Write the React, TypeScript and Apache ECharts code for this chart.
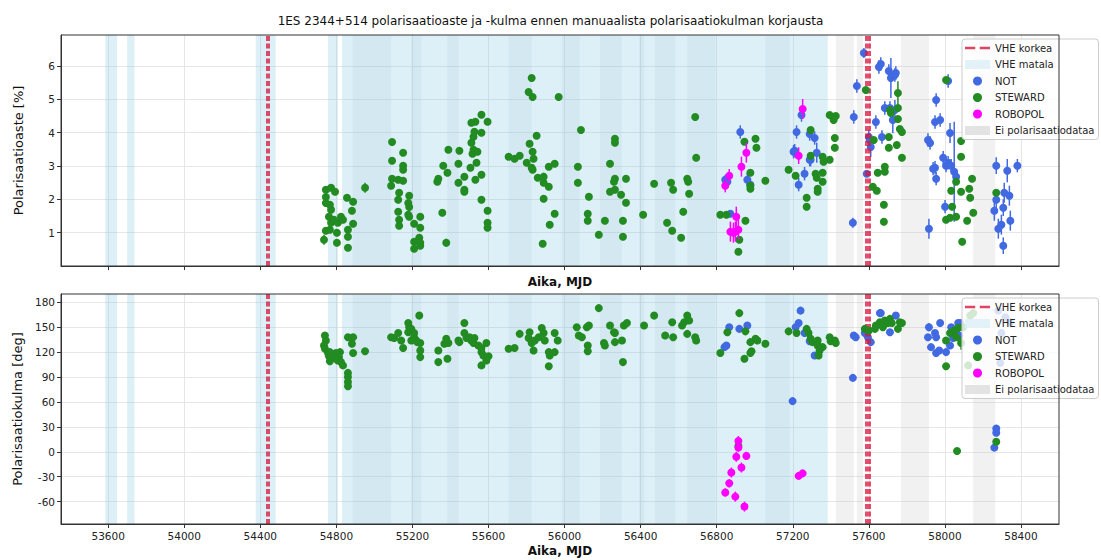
import React, { useEffect, useRef } from "react";
import * as echarts from "echarts";

const TITLE = "1ES 2344+514 polarisaatioaste ja -kulma ennen manuaalista polarisaatiokulman korjausta";
const X_TICKS = [53600, 54000, 54400, 54800, 55200, 55600, 56000, 56400, 56800, 57200, 57600, 58000, 58400];
const DEG_TICKS = [1, 2, 3, 4, 5, 6];
const ANG_TICKS = [-60, -30, 0, 30, 60, 90, 120, 150, 180];

const VHE_HIGH = [54432, 54446, 57584, 57594, 57604];
const VHE_LOW_BANDS = [
  [53585, 53647], [53700, 53738], [54376, 54481], [54756, 54808], [54830, 57384],
];
const VHE_LOW_OVERLAP = [
  [54886, 55088], [55194, 55246], [55384, 55442], [55706, 55827], [55985, 56080],
  [56186, 56300], [56392, 56418], [56476, 56582], [56645, 56793], [57056, 57183],
];
const NO_DATA_BANDS = [[57426, 57521], [57537, 57570], [57769, 57916], [58149, 58265]];

// [MJD, polarisaatioaste %, virhe]
const STEWARD_DEG = [
  [54745, 2.29, 0.05], [54772, 2.35, 0.05], [54793, 2.23, 0.05], [54745, 2.07, 0.05], [54745, 1.89, 0.05],
  [54766, 1.84, 0.05], [54772, 1.69, 0.05], [54761, 1.48, 0.05], [54772, 1.30, 0.05], [54745, 1.06, 0.05],
  [54735, 0.79, 0.15], [54766, 1.09, 0.05], [54787, 1.39, 0.05], [54808, 1.30, 0.05], [54824, 1.48, 0.05],
  [54835, 1.39, 0.05], [54803, 1.00, 0.05], [54803, 0.70, 0.05], [54861, 0.55, 0.05], [54856, 2.05, 0.05],
  [54888, 1.93, 0.05], [54882, 1.66, 0.05], [54888, 1.27, 0.05], [54861, 1.09, 0.05], [54861, 0.88, 0.05],
  [54951, 2.35, 0.15], [55093, 3.72, 0.05], [55093, 3.16, 0.05], [55093, 2.62, 0.05], [55088, 2.41, 0.05],
  [55125, 2.59, 0.05], [55151, 3.40, 0.05], [55151, 3.01, 0.05], [55151, 2.89, 0.05], [55151, 2.56, 0.05],
  [55130, 2.20, 0.05], [55125, 1.99, 0.05], [55125, 1.63, 0.05], [55130, 1.39, 0.05], [55130, 1.21, 0.05],
  [55183, 2.11, 0.05], [55178, 1.89, 0.05], [55183, 1.77, 0.05], [55178, 1.54, 0.05], [55183, 1.48, 0.05],
  [55209, 1.27, 0.05], [55241, 1.48, 0.05], [55241, 1.15, 0.05], [55209, 0.73, 0.05], [55209, 0.52, 0.05],
  [55236, 0.85, 0.05], [55241, 0.70, 0.05], [55241, 0.61, 0.05], [55357, 1.60, 0.05], [55378, 0.70, 0.12],
  [55331, 2.53, 0.05], [55336, 2.62, 0.05], [55362, 3.01, 0.05], [55384, 2.80, 0.05], [55389, 3.49, 0.05],
  [55442, 3.07, 0.05], [55447, 3.46, 0.05], [55442, 2.50, 0.05], [55473, 2.68, 0.05], [55473, 2.29, 0.05],
  [55473, 2.23, 0.05], [55505, 2.95, 0.05], [55516, 3.37, 0.05], [55510, 3.70, 0.05], [55521, 3.88, 0.05],
  [55526, 4.03, 0.05], [55531, 4.33, 0.05], [55510, 4.30, 0.05], [55563, 4.54, 0.05], [55595, 4.33, 0.05],
  [55563, 4.00, 0.05], [55521, 3.49, 0.05], [55542, 3.43, 0.05], [55537, 3.10, 0.05], [55531, 2.59, 0.05],
  [55563, 2.74, 0.05], [55563, 1.99, 0.05], [55595, 1.66, 0.05], [55595, 1.30, 0.05], [55595, 1.15, 0.05],
  [55706, 3.28, 0.05], [55737, 3.22, 0.05], [55764, 3.31, 0.05], [55801, 3.10, 0.05], [55827, 2.95, 0.05],
  [55832, 2.89, 0.05], [55837, 3.22, 0.05], [55832, 3.43, 0.05], [55816, 3.67, 0.05], [55853, 3.91, 0.05],
  [55859, 2.65, 0.05], [55890, 2.68, 0.12], [55890, 2.50, 0.05], [55917, 2.38, 0.05], [55890, 2.02, 0.05],
  [55948, 1.57, 0.05], [55922, 1.24, 0.05], [55885, 0.67, 0.05], [55917, 2.98, 0.05], [55948, 3.07, 0.05],
  [55811, 5.22, 0.05], [55827, 5.64, 0.05], [55832, 5.07, 0.05], [55969, 5.07, 0.05],
  [56086, 4.08, 0.05], [56070, 2.98, 0.05], [56070, 2.50, 0.05], [56128, 2.08, 0.05], [56122, 1.57, 0.05],
  [56122, 1.36, 0.05], [56180, 0.94, 0.05], [56212, 1.36, 0.05], [56265, 3.82, 0.05], [56265, 3.70, 0.08],
  [56239, 3.07, 0.05], [56265, 2.62, 0.05], [56260, 2.53, 0.05], [56265, 2.29, 0.05], [56239, 2.23, 0.05],
  [56297, 2.14, 0.05], [56323, 1.90, 0.05], [56323, 2.62, 0.05], [56307, 1.36, 0.05], [56307, 0.88, 0.05],
  [56413, 1.54, 0.05], [56471, 2.47, 0.1], [56539, 1.30, 0.05], [56566, 1.06, 0.05], [56613, 0.85, 0.05],
  [56560, 2.50, 0.05], [56571, 2.29, 0.05], [56645, 2.62, 0.05], [56650, 2.53, 0.05], [56655, 2.17, 0.05],
  [56624, 1.63, 0.05], [56687, 4.47, 0.05], [56692, 3.25, 0.05], [56819, 1.54, 0.05], [56851, 1.54, 0.05],
  [56919, 0.79, 0.05], [56914, 0.43, 0.05], [56946, 3.73, 0.05], [56951, 1.36, 0.05], [56977, 2.80, 0.05],
  [56977, 2.41, 0.05], [56977, 2.32, 0.05], [57004, 3.82, 0.05], [57009, 3.55, 0.05], [57056, 2.56, 0.05],
  [57178, 2.89, 0.05], [57215, 2.71, 0.05], [57273, 2.05, 0.05], [57273, 1.78, 0.05], [57294, 4.08, 0.05],
  [57294, 3.31, 0.05], [57320, 2.77, 0.05], [57326, 2.65, 0.05], [57331, 2.32, 0.05], [57331, 2.23, 0.05],
  [57357, 3.28, 0.05], [57362, 3.13, 0.05], [57357, 2.80, 0.05], [57357, 2.53, 0.05], [57394, 3.19, 0.05],
  [57394, 4.53, 0.05], [57410, 4.47, 0.05], [57426, 4.50, 0.05], [57415, 4.38, 0.05], [57421, 3.84, 0.05],
  [57421, 3.55, 0.05], [57584, 5.28, 0.05], [57626, 3.78, 0.05], [57621, 2.38, 0.05], [57642, 2.26, 0.05],
  [57647, 2.80, 0.05], [57684, 2.98, 0.05], [57684, 2.83, 0.05], [57679, 1.84, 0.05], [57679, 1.33, 0.05],
  [57705, 3.87, 0.05], [57711, 4.68, 0.05], [57716, 4.59, 0.05], [57753, 5.19, 0.35], [57753, 4.74, 0.05],
  [57753, 4.41, 0.05], [57763, 4.11, 0.05], [57774, 4.02, 0.05], [57747, 3.63, 0.05], [57774, 3.25, 0.05],
  [57705, 3.55, 0.05], [58006, 5.58, 0.05], [58085, 3.75, 0.05], [58085, 3.28, 0.05], [58143, 2.62, 0.05],
  [58128, 2.32, 0.05], [58133, 2.05, 0.05], [58085, 2.23, 0.05], [58033, 2.26, 0.05], [58059, 2.53, 0.05],
  [58038, 1.78, 0.05], [58006, 1.39, 0.05], [58027, 1.45, 0.05], [58059, 1.48, 0.05], [58117, 1.36, 0.05],
  [58149, 1.60, 0.05], [58091, 0.73, 0.05], [58270, 2.20, 0.05],
];

const NOT_DEG = [
  [56924, 4.02, 0.2], [56845, 2.59, 0.15], [56856, 2.53, 0.15], [56872, 1.57, 0.1], [56961, 2.59, 0.2],
  [56977, 2.44, 0.2], [57210, 3.46, 0.2], [57220, 4.02, 0.2], [57246, 4.53, 0.2], [57231, 2.44, 0.2],
  [57262, 2.77, 0.2], [57289, 3.96, 0.2], [57289, 3.19, 0.2], [57204, 3.43, 0.2], [57315, 3.84, 0.2],
  [57326, 3.40, 0.3], [57294, 3.19, 0.2], [57521, 4.47, 0.2], [57537, 5.40, 0.2], [57574, 6.39, 0.15],
  [57516, 1.30, 0.15], [57589, 2.77, 0.1], [57600, 3.87, 0.2], [57610, 3.57, 0.3], [57605, 3.78, 0.2],
  [57637, 4.32, 0.2], [57653, 5.97, 0.2], [57663, 6.06, 0.2], [57669, 3.87, 0.2], [57684, 4.74, 0.2],
  [57705, 5.85, 0.2], [57716, 5.64, 0.6], [57737, 5.73, 0.2], [57742, 5.79, 0.2], [57711, 4.74, 0.2],
  [57726, 4.38, 0.4], [57737, 4.68, 0.3], [57916, 1.12, 0.3], [57911, 3.78, 0.2], [57922, 3.69, 0.2],
  [57954, 4.98, 0.2], [57948, 4.32, 0.2], [57975, 4.38, 0.2], [58027, 3.99, 0.3], [58017, 5.55, 0.2],
  [57938, 2.92, 0.2], [57954, 2.62, 0.2], [57991, 3.25, 0.2], [58006, 3.01, 0.2], [58017, 3.10, 0.2],
  [58033, 3.01, 0.2], [58049, 2.83, 1.5], [58059, 2.68, 0.2], [58001, 1.78, 0.2], [57948, 2.95, 0.2],
  [58270, 3.01, 0.25], [58328, 2.86, 0.35], [58381, 3.01, 0.2], [58270, 1.99, 0.3], [58260, 1.66, 0.3],
  [58312, 2.20, 0.3], [58339, 2.11, 0.3], [58307, 1.75, 0.25], [58297, 1.24, 0.3], [58281, 1.12, 0.3],
  [58307, 0.61, 0.25], [58344, 1.36, 0.3],
];

const ROBOPOL_DEG = [
  [56866, 2.71, 0.2], [56845, 2.41, 0.2], [56872, 1.03, 0.3], [56888, 1.00, 0.3], [56903, 1.48, 0.3],
  [56914, 1.09, 0.3], [56898, 1.03, 0.3], [56930, 2.98, 0.3], [56956, 3.40, 0.3], [57252, 4.71, 0.3],
  [57231, 3.31, 0.25],
];

// [MJD, polarisaatiokulma deg, virhe]
const STEWARD_ANG = [
  [54740, 140, 1], [54745, 134, 1], [54735, 128, 1], [54740, 124, 1], [54756, 119, 1], [54761, 115, 1],
  [54766, 109, 1], [54782, 116, 1], [54787, 113, 1], [54808, 110, 1], [54814, 114, 1], [54824, 108, 1],
  [54835, 104, 1], [54819, 120, 1], [54798, 119, 1], [54766, 120, 1], [54861, 95, 1], [54861, 90, 1],
  [54861, 84, 1], [54861, 79, 1], [54861, 138, 1], [54888, 138, 1], [54882, 130, 1], [54888, 119, 1],
  [54951, 121, 1], [55088, 138, 1], [55104, 137, 1], [55125, 143, 1], [55141, 134, 1], [55151, 125, 1],
  [55178, 155, 1], [55183, 150, 1], [55178, 144, 1], [55194, 148, 1], [55209, 143, 1], [55209, 138, 1],
  [55194, 134, 1], [55220, 134, 1], [55236, 164, 1], [55241, 131, 1], [55241, 122, 1], [55241, 114, 1],
  [55225, 132, 1], [55336, 122, 1], [55336, 108, 1], [55384, 112, 1], [55368, 130, 1], [55389, 131, 1],
  [55378, 136, 4], [55442, 134, 1], [55447, 132, 1], [55473, 155, 1], [55473, 143, 1], [55484, 137, 1],
  [55500, 138, 1], [55510, 134, 1], [55521, 131, 1], [55526, 137, 1], [55547, 128, 1], [55563, 125, 1],
  [55563, 120, 1], [55573, 116, 1], [55589, 131, 1], [55589, 110, 1], [55600, 115, 1], [55563, 104, 1],
  [55706, 124, 1], [55737, 125, 1], [55764, 142, 1], [55816, 144, 1], [55811, 137, 1], [55827, 131, 1],
  [55837, 122, 1], [55843, 134, 1], [55864, 138, 1], [55880, 149, 1], [55890, 143, 1], [55896, 134, 1],
  [55917, 120, 1], [55922, 116, 1], [55917, 103, 1], [55948, 120, 1], [55948, 143, 1], [55964, 134, 1],
  [56064, 150, 1], [56075, 140, 1], [56117, 150, 1], [56128, 152, 1], [56091, 138, 1], [56122, 128, 1],
  [56122, 121, 1], [56180, 173, 1], [56207, 131, 1], [56212, 128, 1], [56239, 152, 1], [56260, 144, 1],
  [56265, 132, 1], [56265, 143, 1], [56302, 134, 1], [56312, 152, 1], [56328, 155, 1], [56307, 108, 1],
  [56418, 152, 1], [56471, 164, 1], [56529, 140, 1], [56566, 156, 1], [56571, 138, 1], [56618, 152, 1],
  [56629, 156, 1], [56645, 164, 1], [56655, 158, 1], [56645, 142, 1], [56687, 138, 1], [56692, 134, 1],
  [56819, 119, 1], [56856, 144, 1], [56919, 167, 1], [56951, 145, 1], [56946, 112, 1], [56977, 132, 1],
  [56983, 121, 1], [56977, 119, 1], [57004, 136, 1], [57014, 134, 1], [57056, 130, 1], [56914, 7, 1],
  [57178, 145, 1], [57220, 143, 1], [57273, 148, 1], [57283, 143, 1], [57294, 136, 1], [57304, 132, 1],
  [57331, 134, 1], [57331, 128, 1], [57341, 122, 1], [57336, 116, 1], [57357, 126, 1], [57394, 138, 1],
  [57399, 133, 1], [57421, 134, 1], [57426, 131, 1], [57579, 148, 1], [57600, 146, 1], [57632, 148, 1],
  [57658, 156, 1], [57684, 158, 1], [57700, 155, 1], [57711, 160, 1], [57674, 150, 1], [57721, 155, 1],
  [57753, 148, 1], [57763, 156, 1], [57774, 155, 1], [57637, 152, 1], [58006, 134, 1], [58027, 143, 1],
  [58049, 146, 1], [58070, 149, 1], [58085, 131, 8], [58059, 138, 1], [58096, 150, 1], [58006, 103, 1],
  [58122, 104, 1], [58133, 164, 1], [58149, 167, 1], [58064, 1, 1], [58270, 12, 1],
];

const NOT_ANG = [
  [56866, 150, 3], [56919, 148, 3], [56961, 152, 3], [56841, 126, 3], [56851, 128, 3], [57241, 170, 3],
  [57231, 155, 3], [57215, 150, 3], [57262, 143, 3], [57289, 133, 3], [57315, 116, 3], [57199, 61, 2],
  [57516, 89, 3], [57521, 140, 3], [57531, 138, 3], [57579, 143, 3], [57595, 138, 3], [57610, 132, 3],
  [57658, 167, 3], [57663, 167, 3], [57742, 164, 3], [57711, 144, 3], [57916, 150, 5], [57975, 155, 3],
  [57911, 138, 3], [57948, 143, 3], [57954, 138, 3], [57927, 126, 3], [57954, 119, 3], [57970, 122, 3],
  [58006, 120, 3], [58033, 150, 3], [58043, 137, 3], [58054, 143, 3], [58059, 146, 3], [58070, 155, 3],
  [58080, 155, 3], [58075, 140, 9], [58027, 128, 3], [58270, 28, 3], [58270, 23, 3], [58260, 5, 3],
  [58281, 170, 3], [58318, 162, 3], [58344, 156, 3], [58297, 143, 3], [58291, 107, 3],
];

const ROBOPOL_ANG = [
  [56914, 13, 6], [56914, 5, 5], [56903, -6, 6], [56956, -5, 4], [56930, -19, 6], [56877, -25, 6],
  [56866, -38, 5], [56845, -49, 5], [56898, -54, 6], [56946, -66, 6], [57231, -29, 3], [57252, -26, 3],
];

const C_NOT = "#4169E1";
const C_STEWARD = "#228B22";
const C_ROBOPOL = "#FF00FF";
const C_HIGH = "#DC143C";
const C_LOW = "rgba(142,202,228,0.3)";
const C_LOW_OVER = "rgba(120,170,200,0.09)";
const C_NODATA = "rgba(200,200,200,0.25)";
const FONT = "DejaVu Sans";

export default function App() {
  const ref = useRef<HTMLDivElement>(null);

  useEffect(() => {
    document.body.style.margin = "0";
    if (!ref.current) return;
    const chart = echarts.init(ref.current, undefined, { renderer: "svg" });

    const errRender = (color: string) => (params: any, api: any) => {
      const x = api.value(0), y = api.value(1), e = api.value(2);
      const a = api.coord([x, y - e]);
      const b = api.coord([x, y + e]);
      return { type: "line", shape: { x1: a[0], y1: a[1], x2: b[0], y2: b[1] }, style: { stroke: color, lineWidth: 1.5 } };
    };

    const panels = [
      { not: NOT_DEG, st: STEWARD_DEG, rb: ROBOPOL_DEG },
      { not: NOT_ANG, st: STEWARD_ANG, rb: ROBOPOL_ANG },
    ];

    const series: any[] = [];
    panels.forEach((p, gi) => {
      series.push({
        type: "scatter", name: "VHE matala", xAxisIndex: gi, yAxisIndex: gi, data: [], z: 1,
        itemStyle: { color: "#DCEEF6" }, silent: true,
        markArea: { silent: true, itemStyle: { color: C_LOW, borderWidth: 0 }, label: { show: false },
          data: VHE_LOW_BANDS.map(([a, b]) => [{ xAxis: a }, { xAxis: b }]) },
      });
      series.push({
        type: "scatter", name: "VHE matala", xAxisIndex: gi, yAxisIndex: gi, data: [], z: 1,
        itemStyle: { color: "#DCEEF6" }, silent: true,
        markArea: { silent: true, itemStyle: { color: C_LOW_OVER, borderWidth: 0 }, label: { show: false },
          data: VHE_LOW_OVERLAP.map(([a, b]) => [{ xAxis: a }, { xAxis: b }]) },
      });
      series.push({
        type: "scatter", name: "Ei polarisaatiodataa", xAxisIndex: gi, yAxisIndex: gi, data: [], z: 1,
        itemStyle: { color: "#DCDCDC" }, silent: true,
        markArea: { silent: true, itemStyle: { color: C_NODATA, borderWidth: 0 }, label: { show: false },
          data: NO_DATA_BANDS.map(([a, b]) => [{ xAxis: a }, { xAxis: b }]) },
      });
      series.push({
        type: "scatter", name: "VHE korkea", xAxisIndex: gi, yAxisIndex: gi, data: [], z: 2,
        itemStyle: { color: C_HIGH }, silent: true,
        markLine: { silent: true, symbol: ["none", "none"], label: { show: false },
          lineStyle: { color: C_HIGH, type: [5, 2.5], width: 1.5 },
          data: VHE_HIGH.map((v) => ({ xAxis: v })) },
      });
      const inst = [
        { name: "NOT", data: p.not, color: C_NOT },
        { name: "STEWARD", data: p.st, color: C_STEWARD },
        { name: "ROBOPOL", data: p.rb, color: C_ROBOPOL },
      ];
      inst.forEach((s, k) => {
        series.push({
          type: "custom", name: s.name + "-virhe", xAxisIndex: gi, yAxisIndex: gi, data: s.data,
          encode: { x: 0, y: 1 }, renderItem: errRender(s.color), z: 3 + k * 2, silent: true, clip: true,
        });
        series.push({
          type: "scatter", name: s.name, xAxisIndex: gi, yAxisIndex: gi, data: s.data,
          symbol: "circle", symbolSize: 8, itemStyle: { color: s.color, opacity: 1 }, z: 4 + k * 2, silent: true,
        });
      });
    });

    const legendData = [
      { name: "VHE korkea", icon: "path://M0,0 H9 V2.4 H0 Z M13,0 H22 V2.4 H13 Z", itemStyle: { color: C_HIGH } },
      { name: "VHE matala", icon: "rect", itemStyle: { color: "#DCEEF6" } },
      { name: "NOT", icon: "circle", itemStyle: { color: C_NOT } },
      { name: "STEWARD", icon: "circle", itemStyle: { color: C_STEWARD } },
      { name: "ROBOPOL", icon: "circle", itemStyle: { color: C_ROBOPOL } },
      { name: "Ei polarisaatiodataa", icon: "rect", itemStyle: { color: "#DCDCDC" } },
    ];
    const mkLegend = (top: number) => ({
      orient: "vertical", left: 962, top, data: legendData, itemWidth: 25, itemHeight: 9, itemGap: 6.5,
      padding: [4, 4, 4, 3], backgroundColor: "rgba(255,255,255,0.8)", borderColor: "#cccccc", borderWidth: 1,
      borderRadius: 3, selectedMode: false, textStyle: { fontSize: 10, fontFamily: FONT, color: "#222" }, z: 20,
    });

    const grids = [
      { left: 61, top: 35, width: 998, height: 231 },
      { left: 61, top: 294, width: 998, height: 230 },
    ];

    const xAxis = grids.map((_, gi) => ({
      type: "value", gridIndex: gi, min: 53352, max: 58600,
      axisLine: { show: true, onZero: false, lineStyle: { color: "#333" } },
      axisTick: { show: true, customValues: X_TICKS, length: 4, lineStyle: { color: "#333" } },
      axisLabel: { show: gi === 1, customValues: X_TICKS, fontSize: 10.5, fontFamily: FONT, color: "#222", margin: 6,
        formatter: (v: number) => String(v) },
      splitLine: { show: true, lineStyle: { color: "#e6e6e6", width: 1 } },
      name: "Aika, MJD", nameLocation: "middle", nameGap: gi === 0 ? 10 : 21,
      nameTextStyle: { fontSize: 12, fontWeight: "bold", fontFamily: FONT, color: "#111" },
    }));

    const yAxis = [
      {
        type: "value", gridIndex: 0, min: 0, max: 6.93,
        axisLine: { show: true, onZero: false, lineStyle: { color: "#333" } },
        axisTick: { show: true, customValues: DEG_TICKS, length: 4, lineStyle: { color: "#333" } },
        axisLabel: { customValues: DEG_TICKS, fontSize: 10.5, fontFamily: FONT, color: "#222", margin: 6 },
        splitLine: { show: true, lineStyle: { color: "#e6e6e6" } },
        name: "Polarisaatioaste [%]", nameLocation: "middle", nameGap: 36, nameRotate: 90,
        nameTextStyle: { fontSize: 13, fontFamily: FONT, color: "#111" },
      },
      {
        type: "value", gridIndex: 1, min: -87, max: 190,
        axisLine: { show: true, onZero: false, lineStyle: { color: "#333" } },
        axisTick: { show: true, customValues: ANG_TICKS, length: 4, lineStyle: { color: "#333" } },
        axisLabel: { customValues: ANG_TICKS, fontSize: 10.5, fontFamily: FONT, color: "#222", margin: 6 },
        splitLine: { show: true, lineStyle: { color: "#e6e6e6" } },
        name: "Polarisaatiokulma [deg]", nameLocation: "middle", nameGap: 36, nameRotate: 90,
        nameTextStyle: { fontSize: 13, fontFamily: FONT, color: "#111" },
      },
    ];

    chart.setOption({
      animation: false,
      backgroundColor: "#ffffff",
      title: { text: TITLE, left: "center", top: 10, textStyle: { fontSize: 12, fontWeight: "normal", fontFamily: FONT, color: "#111" } },
      grid: grids,
      xAxis,
      yAxis,
      legend: [mkLegend(39), mkLegend(298)],
      graphic: grids.map((g) => ({
        type: "rect", z: 50, silent: true,
        shape: { x: g.left, y: g.top, width: g.width, height: g.height },
        style: { fill: "none", stroke: "#333", lineWidth: 1 },
      })),
      series,
    });

    return () => chart.dispose();
  }, []);

  return <div ref={ref} style={{ width: 1101, height: 560 }} />;
}
